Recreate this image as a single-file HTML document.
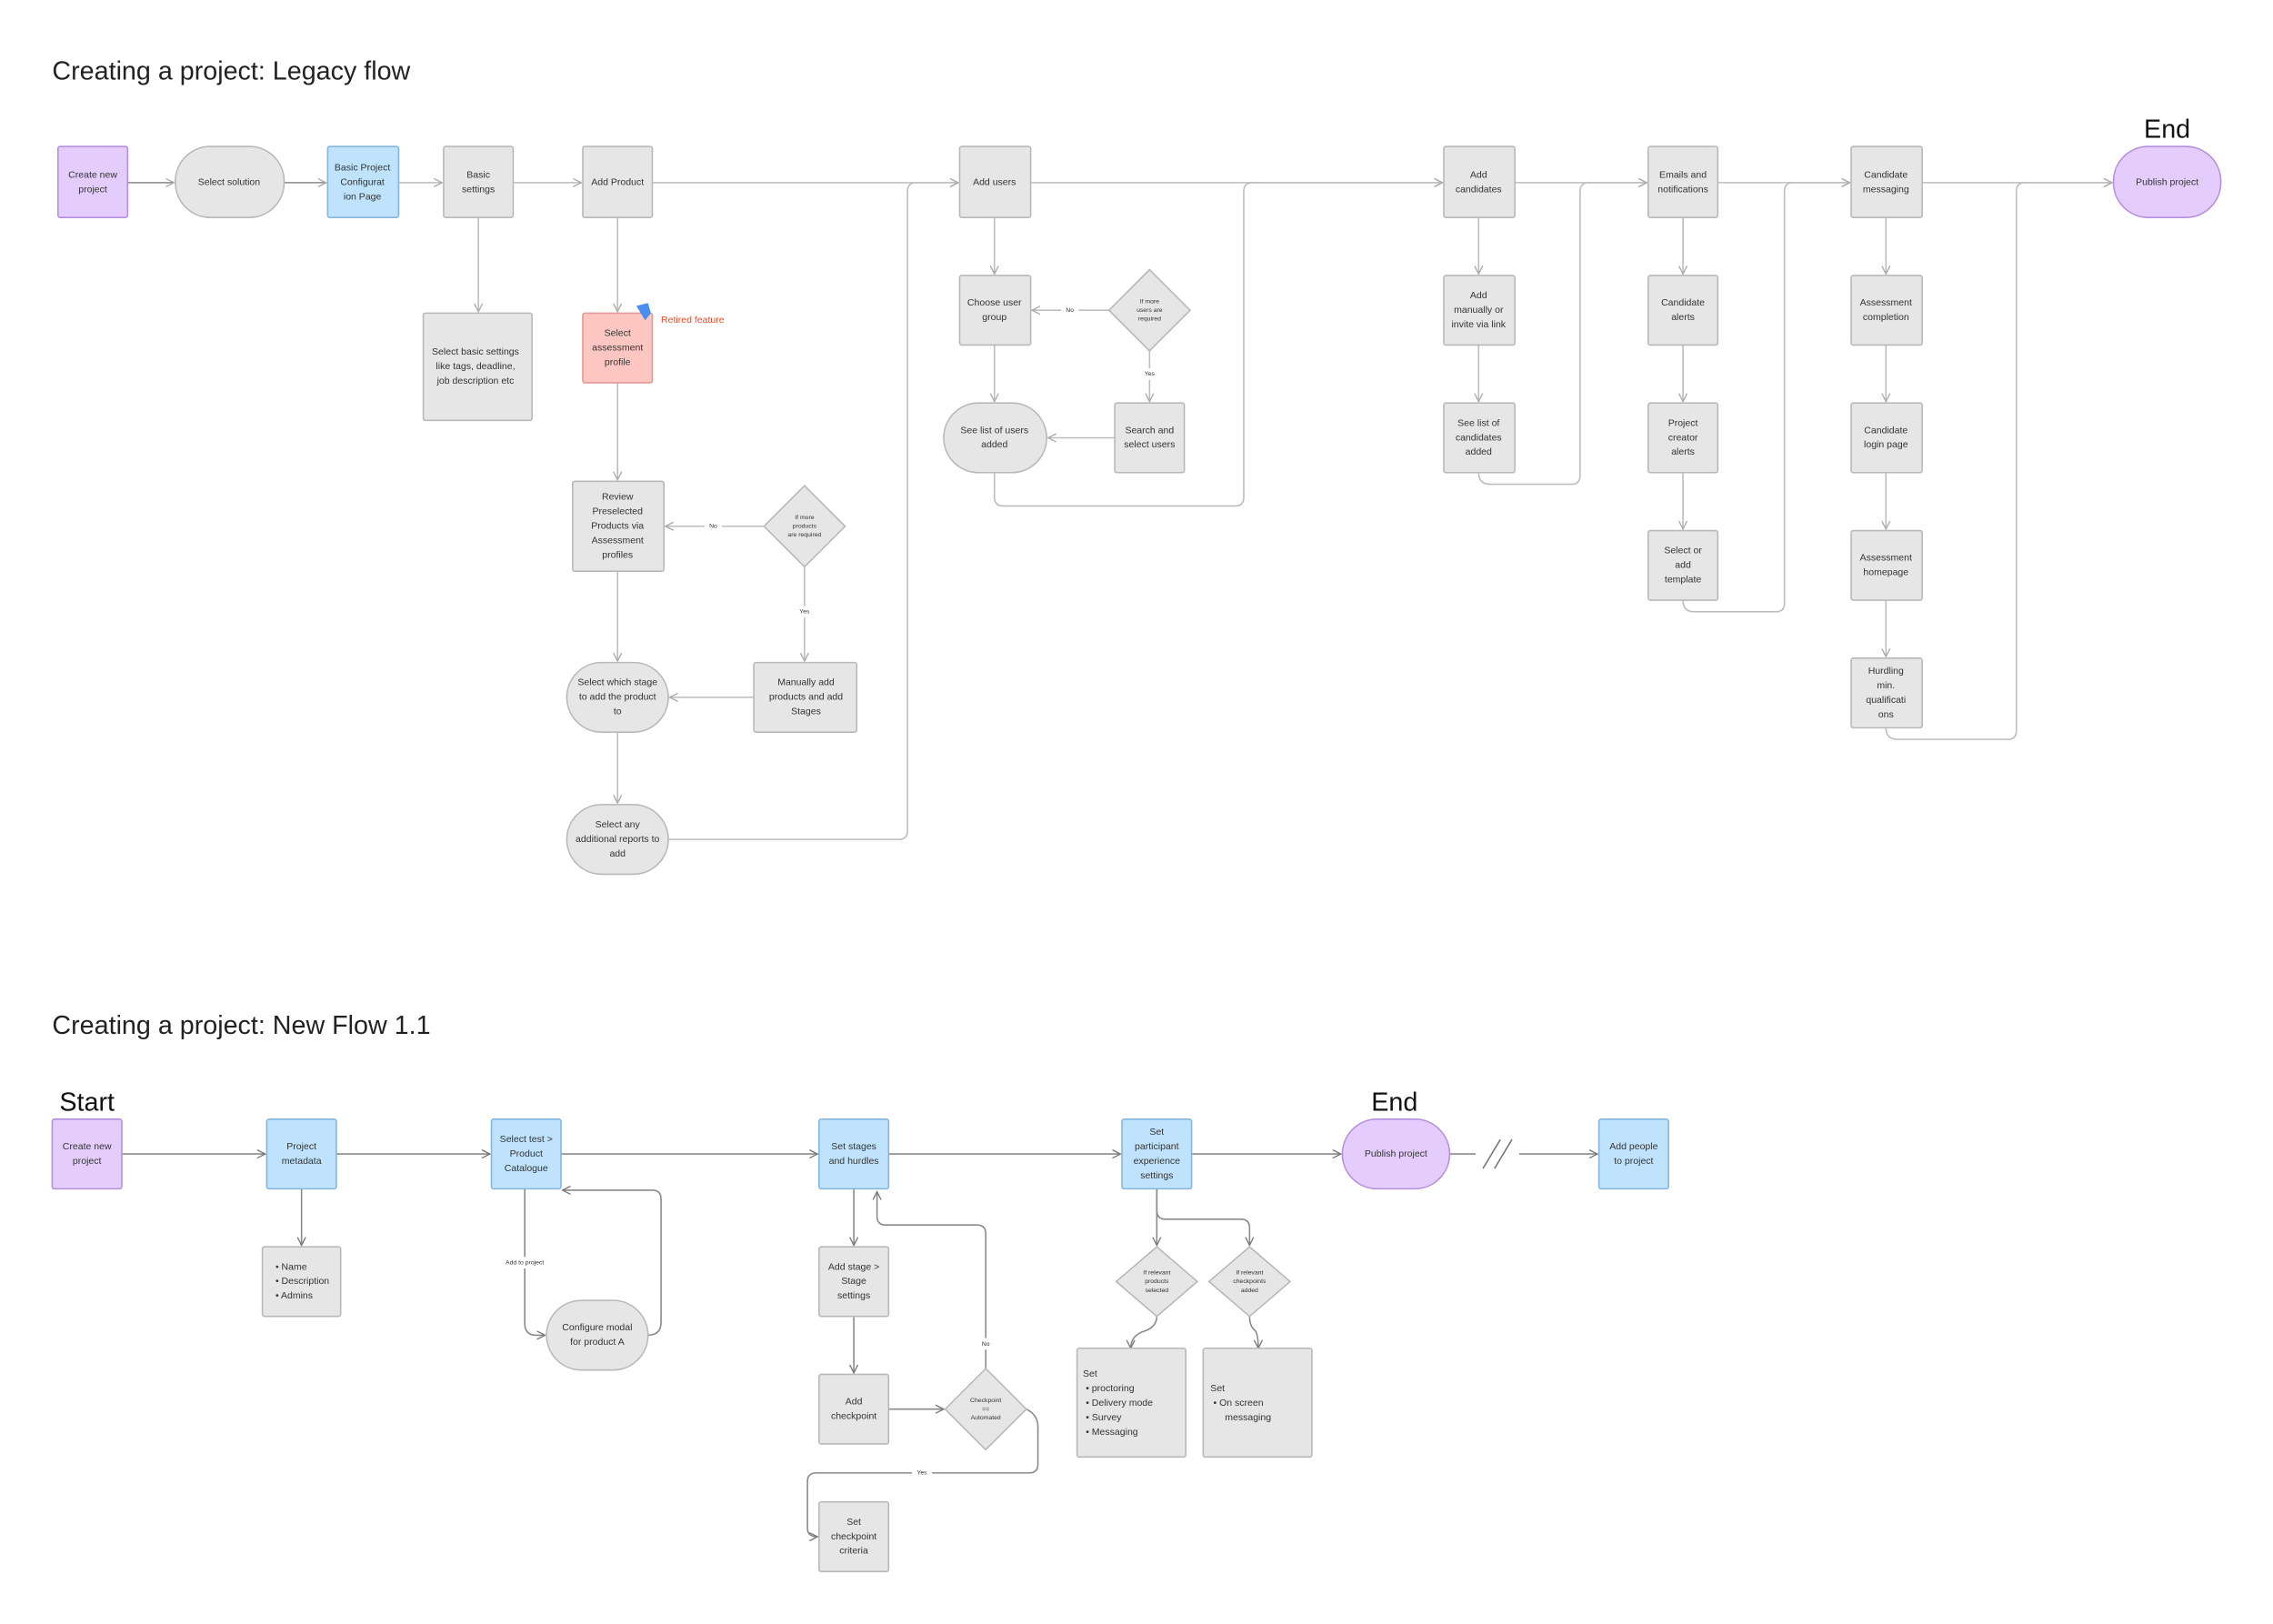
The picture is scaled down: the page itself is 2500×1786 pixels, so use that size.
<!DOCTYPE html>
<html><head><meta charset="utf-8"><style>
html,body{margin:0;padding:0;background:#fff;width:2500px;height:1786px;overflow:hidden}
svg{display:block}
text{font-family:"Liberation Sans",sans-serif;fill:#333}
.n text,.t{font-size:6.6px;text-anchor:middle;dominant-baseline:middle}
.g{fill:#e6e6e6;stroke:#b8b8b8;stroke-width:1}
.p{fill:#e4cdfd;stroke:#b58fdd;stroke-width:1}
.b{fill:#bfe3fd;stroke:#85b5dc;stroke-width:1}
.r{fill:#fdc6c1;stroke:#e39b94;stroke-width:1}
.l{fill:none;stroke:#bdbdbd;stroke-width:1}
.d{fill:none;stroke:#8a8a8a;stroke-width:1}
text.s,.n text.s{font-size:4.3px;text-anchor:middle;dominant-baseline:middle}
.h{font-size:18px;fill:#222}
.big{font-size:18px;fill:#111;text-anchor:middle}
.lt{font-size:6.6px;dominant-baseline:middle}
</style></head><body>
<svg width="2500" height="1786" viewBox="0 0 1568 1120.2" xmlns="http://www.w3.org/2000/svg">
<defs>
<marker id="a" viewBox="0 0 10 10" refX="9" refY="5" markerWidth="7" markerHeight="7" orient="auto" markerUnits="userSpaceOnUse"><path d="M1 1 L9 5 L1 9" fill="none" stroke="#aaa" stroke-width="1.2"/></marker>
<marker id="ad" viewBox="0 0 10 10" refX="9" refY="5" markerWidth="7" markerHeight="7" orient="auto" markerUnits="userSpaceOnUse"><path d="M1 1 L9 5 L1 9" fill="none" stroke="#777" stroke-width="1.2"/></marker>
</defs>

<text class="h" x="36" y="55">Creating a project: Legacy flow</text>
<text class="h" x="36" y="713">Creating a project: New Flow 1.1</text>

<g class="l" marker-end="url(#a)">
<path d="M88 126 H120" style="stroke:#888"/>
<path d="M196 126 H225" style="stroke:#888"/>
<path d="M275 126 H305"/>
<path d="M354 126 H401"/>
<path d="M450 126 H661"/>
<path d="M330 150 V215"/>
<path d="M426 150 V215"/>
<path d="M426 264 V331"/>
<path d="M527 363 H459"/>
<path d="M555 391 V456"/>
<path d="M426 394 V456"/>
<path d="M520 481 H462"/>
<path d="M426 505 V554"/>
<path d="M461 579 H620 Q626 579 626 573 V132 Q626 126 632 126 H661"/>
<path d="M711 126 H995"/>
<path d="M686 150 V189"/>
<path d="M765 214 H712"/>
<path d="M793 242 V277"/>
<path d="M686 238 V277"/>
<path d="M769 302 H723"/>
<path d="M686 326 V343 Q686 349 692 349 H852 Q858 349 858 343 V132 Q858 126 864 126 H995"/>
<path d="M1045 126 H1136"/>
<path d="M1020 150 V189"/>
<path d="M1020 238 V277"/>
<path d="M1020 326 Q1020 334 1028 334 H1084 Q1090 334 1090 328 V132 Q1090 126 1096 126 H1136"/>
<path d="M1185 126 H1276"/>
<path d="M1161 150 V189"/>
<path d="M1161 238 V277"/>
<path d="M1161 326 V365"/>
<path d="M1161 414 Q1161 422 1169 422 H1225 Q1231 422 1231 416 V132 Q1231 126 1237 126 H1276"/>
<path d="M1326 126 H1457"/>
<path d="M1301 150 V189"/>
<path d="M1301 238 V277"/>
<path d="M1301 326 V365"/>
<path d="M1301 414 V453"/>
<path d="M1301 502 Q1301 510 1309 510 H1385 Q1391 510 1391 504 V132 Q1391 126 1397 126 H1457"/>
</g>
<rect x="486" y="359" width="12" height="8" fill="#fff"/><text class="s" x="492" y="363">No</text>
<rect x="548" y="418" width="14" height="8" fill="#fff"/><text class="s" x="555" y="422">Yes</text>
<rect x="732" y="210" width="12" height="8" fill="#fff"/><text class="s" x="738" y="214">No</text>
<rect x="786" y="254" width="14" height="8" fill="#fff"/><text class="s" x="793" y="258">Yes</text>

<g class="n">
<rect class="p" x="40" y="101" width="48" height="49" rx="1.5"/><text x="64" y="121">Create new</text><text x="64" y="131">project</text>
<rect class="g" x="121" y="101" width="75" height="49" rx="24"/><text x="158" y="126">Select solution</text>
<rect class="b" x="226" y="101" width="49" height="49" rx="1.5"/><text x="250" y="116">Basic Project</text><text x="250" y="126">Configurat</text><text x="250" y="136">ion Page</text>
<rect class="g" x="306" y="101" width="48" height="49" rx="1.5"/><text x="330" y="121">Basic</text><text x="330" y="131">settings</text>
<rect class="g" x="402" y="101" width="48" height="49" rx="1.5"/><text x="426" y="126">Add Product</text>
<rect class="g" x="292" y="216" width="75" height="74" rx="1.5"/><text x="328" y="243">Select basic settings</text><text x="328" y="253">like tags, deadline,</text><text x="328" y="263">job description etc</text>
<rect class="r" x="402" y="216" width="48" height="48" rx="1.5"/><text x="426" y="230">Select</text><text x="426" y="240">assessment</text><text x="426" y="250">profile</text>
<rect class="g" x="395" y="332" width="63" height="62" rx="1.5"/><text x="426" y="343">Review</text><text x="426" y="353">Preselected</text><text x="426" y="363">Products via</text><text x="426" y="373">Assessment</text><text x="426" y="383">profiles</text>
<polygon class="g" points="555,335 583,363 555,391 527,363"/><text class="s" x="555" y="357">If more</text><text class="s" x="555" y="363">products</text><text class="s" x="555" y="369">are required</text>
<rect class="g" x="391" y="457" width="70" height="48" rx="24"/><text x="426" y="471">Select which stage</text><text x="426" y="481">to add the product</text><text x="426" y="491">to</text>
<rect class="g" x="520" y="457" width="71" height="48" rx="1.5"/><text x="556" y="471">Manually add</text><text x="556" y="481">products and add</text><text x="556" y="491">Stages</text>
<rect class="g" x="391" y="555" width="70" height="48" rx="24"/><text x="426" y="569">Select any</text><text x="426" y="579">additional reports to</text><text x="426" y="589">add</text>

<rect class="g" x="662" y="101" width="49" height="49" rx="1.5"/><text x="686" y="126">Add users</text>
<rect class="g" x="662" y="190" width="49" height="48" rx="1.5"/><text x="686" y="209">Choose user</text><text x="686" y="219">group</text>
<polygon class="g" points="793,186 821,214 793,242 765,214"/><text class="s" x="793" y="208">If more</text><text class="s" x="793" y="214">users are</text><text class="s" x="793" y="220">required</text>
<rect class="g" x="769" y="278" width="48" height="48" rx="1.5"/><text x="793" y="297">Search and</text><text x="793" y="307">select users</text>
<rect class="g" x="651" y="278" width="71" height="48" rx="24"/><text x="686" y="297">See list of users</text><text x="686" y="307">added</text>

<rect class="g" x="996" y="101" width="49" height="49" rx="1.5"/><text x="1020" y="121">Add</text><text x="1020" y="131">candidates</text>
<rect class="g" x="996" y="190" width="49" height="48" rx="1.5"/><text x="1020" y="204">Add</text><text x="1020" y="214">manually or</text><text x="1020" y="224">invite via link</text>
<rect class="g" x="996" y="278" width="49" height="48" rx="1.5"/><text x="1020" y="292">See list of</text><text x="1020" y="302">candidates</text><text x="1020" y="312">added</text>

<rect class="g" x="1137" y="101" width="48" height="49" rx="1.5"/><text x="1161" y="121">Emails and</text><text x="1161" y="131">notifications</text>
<rect class="g" x="1137" y="190" width="48" height="48" rx="1.5"/><text x="1161" y="209">Candidate</text><text x="1161" y="219">alerts</text>
<rect class="g" x="1137" y="278" width="48" height="48" rx="1.5"/><text x="1161" y="292">Project</text><text x="1161" y="302">creator</text><text x="1161" y="312">alerts</text>
<rect class="g" x="1137" y="366" width="48" height="48" rx="1.5"/><text x="1161" y="380">Select or</text><text x="1161" y="390">add</text><text x="1161" y="400">template</text>

<rect class="g" x="1277" y="101" width="49" height="49" rx="1.5"/><text x="1301" y="121">Candidate</text><text x="1301" y="131">messaging</text>
<rect class="g" x="1277" y="190" width="49" height="48" rx="1.5"/><text x="1301" y="209">Assessment</text><text x="1301" y="219">completion</text>
<rect class="g" x="1277" y="278" width="49" height="48" rx="1.5"/><text x="1301" y="297">Candidate</text><text x="1301" y="307">login page</text>
<rect class="g" x="1277" y="366" width="49" height="48" rx="1.5"/><text x="1301" y="385">Assessment</text><text x="1301" y="395">homepage</text>
<rect class="g" x="1277" y="454" width="49" height="48" rx="1.5"/><text x="1301" y="463">Hurdling</text><text x="1301" y="473">min.</text><text x="1301" y="483">qualificati</text><text x="1301" y="493">ons</text>

<rect class="p" x="1458" y="101" width="74" height="49" rx="24"/><text x="1495" y="126">Publish project</text>
</g>
<text class="big" x="1495" y="95">End</text>
<path d="M439 211 L447 209 L449 216 L445 221 Z" fill="#4a8ef0"/>
<text class="lt" x="456" y="221" style="fill:#f24822">Retired feature</text>

<g class="d" marker-end="url(#ad)">
<path d="M84 796 H183"/>
<path d="M232 796 H338"/>
<path d="M387 796 H564"/>
<path d="M613 796 H773"/>
<path d="M822 796 H925"/>
<path d="M1000 796 H1102"/>
<path d="M208 820 V859"/>
<path d="M362 820 V913 Q362 921 370 921 H376"/>
<path d="M447 921 Q456 921 456 912 V827 Q456 821 450 821 H388"/>
<path d="M589 820 V859"/>
<path d="M589 908 V947"/>
<path d="M613 972 H651"/>
<path d="M680 944 V851 Q680 845 674 845 H611 Q605 845 605 839 V822"/>
<path d="M708 972 Q716 976 716 984 V1010 Q716 1016 710 1016 H563 Q557 1016 557 1022 V1054 Q557 1060 564 1060"/>
<path d="M798 820 V859"/>
<path d="M798 820 V835 Q798 841 804 841 H856 Q862 841 862 847 V859"/>
<path d="M798 908 Q798 915 790 918 Q780 921 780 930"/>
<path d="M862 908 Q862 915 866 918 Q868 921 868 930"/>
</g>
<rect x="1018" y="786" width="30" height="20" fill="#fff"/>
<path d="M1023 806 L1035 786 M1031 806 L1043 786" stroke="#777" stroke-width="1"/>
<rect x="345" y="867" width="34" height="8" fill="#fff"/><text class="s" x="362" y="871">Add to project</text>
<rect x="674" y="923" width="12" height="8" fill="#fff"/><text class="s" x="680" y="927">No</text>
<rect x="629" y="1012" width="14" height="8" fill="#fff"/><text class="s" x="636" y="1016">Yes</text>

<text class="big" x="60" y="766">Start</text>
<text class="big" x="962" y="766">End</text>
<g class="n">
<rect class="p" x="36" y="772" width="48" height="48" rx="1.5"/><text x="60" y="791">Create new</text><text x="60" y="801">project</text>
<rect class="b" x="184" y="772" width="48" height="48" rx="1.5"/><text x="208" y="791">Project</text><text x="208" y="801">metadata</text>
<rect class="b" x="339" y="772" width="48" height="48" rx="1.5"/><text x="363" y="786">Select test &gt;</text><text x="363" y="796">Product</text><text x="363" y="806">Catalogue</text>
<rect class="b" x="565" y="772" width="48" height="48" rx="1.5"/><text x="589" y="791">Set stages</text><text x="589" y="801">and hurdles</text>
<rect class="b" x="774" y="772" width="48" height="48" rx="1.5"/><text x="798" y="781">Set</text><text x="798" y="791">participant</text><text x="798" y="801">experience</text><text x="798" y="811">settings</text>
<rect class="p" x="926" y="772" width="74" height="48" rx="24"/><text x="963" y="796">Publish project</text>
<rect class="b" x="1103" y="772" width="48" height="48" rx="1.5"/><text x="1127" y="791">Add people</text><text x="1127" y="801">to project</text>
<rect class="g" x="181" y="860" width="54" height="48" rx="1.5"/>
<rect class="g" x="377" y="897" width="70" height="48" rx="24"/><text x="412" y="916">Configure modal</text><text x="412" y="926">for product A</text>
<rect class="g" x="565" y="860" width="48" height="48" rx="1.5"/><text x="589" y="874">Add stage &gt;</text><text x="589" y="884">Stage</text><text x="589" y="894">settings</text>
<rect class="g" x="565" y="948" width="48" height="48" rx="1.5"/><text x="589" y="967">Add</text><text x="589" y="977">checkpoint</text>
<polygon class="g" points="680,944 708,972 680,1000 652,972"/><text class="s" x="680" y="966">Checkpoint</text><text class="s" x="680" y="972">==</text><text class="s" x="680" y="978">Automated</text>
<rect class="g" x="565" y="1036" width="48" height="48" rx="1.5"/><text x="589" y="1050">Set</text><text x="589" y="1060">checkpoint</text><text x="589" y="1070">criteria</text>
<polygon class="g" points="798,860 826,884 798,908 770,884"/><text class="s" x="798" y="878">If relevant</text><text class="s" x="798" y="884">products</text><text class="s" x="798" y="890">selected</text>
<polygon class="g" points="862,860 890,884 862,908 834,884"/><text class="s" x="862" y="878">If relevant</text><text class="s" x="862" y="884">checkpoints</text><text class="s" x="862" y="890">added</text>
<rect class="g" x="743" y="930" width="75" height="75" rx="1.5"/>
<rect class="g" x="830" y="930" width="75" height="75" rx="1.5"/>
</g>
<g>
<text class="lt" x="190" y="874">•  Name</text><text class="lt" x="190" y="884">•  Description</text><text class="lt" x="190" y="894">•  Admins</text>
<text class="lt" x="747" y="948">Set</text><text class="lt" x="749" y="958">•  proctoring</text><text class="lt" x="749" y="968">•  Delivery mode</text><text class="lt" x="749" y="978">•  Survey</text><text class="lt" x="749" y="988">•  Messaging</text>
<text class="lt" x="835" y="958">Set</text><text class="lt" x="837" y="968">•  On screen</text><text class="lt" x="845" y="978">messaging</text>
</g>
</svg>
</body></html>
